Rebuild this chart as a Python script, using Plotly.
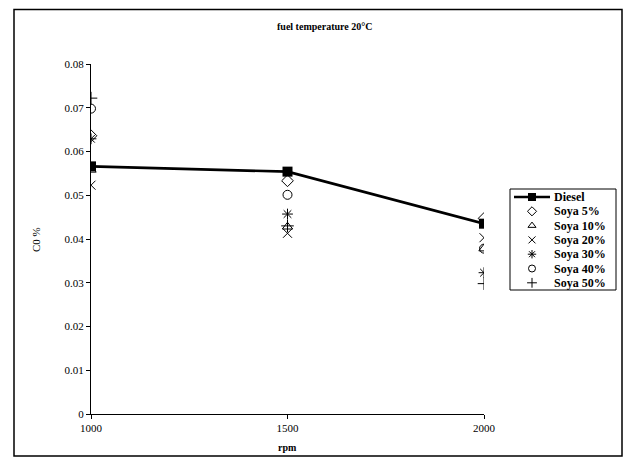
import plotly.graph_objects as go

rpm = [1000, 1500, 2000]
diesel = [0.0566, 0.0554, 0.0435]
soya5 = [0.0636, 0.0533, 0.0447]
soya10 = [0.0558, 0.0428, 0.0378]
soya20 = [0.0523, 0.0413, 0.0403]
soya30 = [0.0629, 0.0457, 0.0323]
soya40 = [0.0698, 0.0501, 0.0378]
soya50 = [0.0722, 0.0430, 0.0298]

y_ticks = [0, 0.01, 0.02, 0.03, 0.04, 0.05, 0.06, 0.07, 0.08]
y_labels = ["0", "0.01", "0.02", "0.03", "0.04", "0.05", "0.06", "0.07", "0.08"]
x_ticks = [1000, 1500, 2000]
x_labels = ["1000", "1500", "2000"]

series_names = ["Diesel", "Soya 5%", "Soya 10%", "Soya 20%", "Soya 30%", "Soya 40%", "Soya 50%"]
series_values = [diesel, soya5, soya10, soya20, soya30, soya40, soya50]
symbols = ["square", "diamond-open", "triangle-up-open", "x-thin-open",
           "asterisk-open", "circle-open", "cross-thin-open"]

FONT = "Liberation Serif, Times New Roman, serif"
W, H = 629, 461

def px(x):
    return x / W

def py(y):
    return 1 - y / H

# plot area in pixels
L, R, T, B = 91, 484, 64, 414
# legend box in pixels
LX0, LX1, LY0, LY1 = 510, 616, 189, 290
row0, row_step = 197, 14.3
mark_x, text_x = 532, 552

fig = go.Figure()
for i, (name, vals, sym) in enumerate(zip(series_names, series_values, symbols)):
    if i == 0:
        fig.add_trace(go.Scatter(x=rpm, y=vals, name=name, mode="lines+markers",
                                 line=dict(color="black", width=2.7),
                                 marker=dict(symbol=sym, size=10, color="black")))
    else:
        fig.add_trace(go.Scatter(x=rpm, y=vals, name=name, mode="markers",
                                 marker=dict(symbol=sym, size=9, color="black",
                                             line=dict(color="black", width=1))))

# manual legend on a hidden overlay axis (pixel units)
annotations = []
for i, (name, sym) in enumerate(zip(series_names, symbols)):
    ry = row0 + i * row_step
    if i == 0:
        fig.add_trace(go.Scatter(x=[LX0 + 4, mark_x, 550], y=[ry, ry, ry], mode="lines",
                                 line=dict(color="black", width=2.5), xaxis="x2", yaxis="y2",
                                 showlegend=False, hoverinfo="skip"))
        fig.add_trace(go.Scatter(x=[mark_x], y=[ry], mode="markers",
                                 marker=dict(symbol=sym, size=8, color="black"),
                                 xaxis="x2", yaxis="y2", showlegend=False, hoverinfo="skip"))
    else:
        fig.add_trace(go.Scatter(x=[mark_x], y=[ry], mode="markers",
                                 marker=dict(symbol=sym, size=7, color="black",
                                             line=dict(color="black", width=1)),
                                 xaxis="x2", yaxis="y2", showlegend=False, hoverinfo="skip"))
    annotations.append(dict(text="<b>%s</b>" % name, x=px(text_x), y=py(ry),
                            xref="paper", yref="paper", xanchor="left", yanchor="middle",
                            showarrow=False, font=dict(size=12, family=FONT, color="black")))

annotations += [
    dict(text="<b>fuel temperature 20°C</b>", x=px(324), y=py(27), xref="paper", yref="paper",
         xanchor="center", yanchor="middle", showarrow=False,
         font=dict(size=10, family=FONT, color="black")),
    dict(text="<b>rpm</b>", x=px(287), y=py(447), xref="paper", yref="paper",
         xanchor="center", yanchor="middle", showarrow=False,
         font=dict(size=10, family=FONT, color="black")),
    dict(text="C0 %", x=px(36), y=py(240), xref="paper", yref="paper", textangle=-90,
         xanchor="center", yanchor="middle", showarrow=False,
         font=dict(size=11, family=FONT, color="black")),
]

fig.update_layout(
    width=W, height=H,
    margin=dict(l=0, r=0, t=0, b=0),
    paper_bgcolor="white", plot_bgcolor="rgba(0,0,0,0)",
    font=dict(family=FONT, color="black", size=11),
    showlegend=False,
    annotations=annotations,
    xaxis=dict(domain=[px(L), px(R)], range=[1000, 2000], tickvals=x_ticks, ticktext=x_labels,
               showgrid=False, zeroline=False, showline=True, linecolor="black",
               linewidth=1, ticks="outside", ticklen=4, tickcolor="black",
               tickfont=dict(size=11), automargin=False),
    yaxis=dict(domain=[py(B), py(T)], range=[0, 0.08], tickvals=y_ticks, ticktext=y_labels,
               showgrid=False, zeroline=False, showline=True, linecolor="black",
               linewidth=1, ticks="outside", ticklen=4, tickcolor="black",
               tickfont=dict(size=11), automargin=False),
    xaxis2=dict(domain=[px(LX0), px(LX1)], range=[LX0, LX1], visible=False,
                anchor="y2", fixedrange=True),
    yaxis2=dict(domain=[py(LY1), py(LY0)], range=[LY1, LY0], visible=False,
                anchor="x2", fixedrange=True),
    shapes=[
        dict(type="rect", xref="paper", yref="paper",
             x0=px(14), x1=px(622), y0=py(456), y1=py(9.5),
             line=dict(color="black", width=1.5), fillcolor="rgba(0,0,0,0)"),
        dict(type="rect", xref="paper", yref="paper",
             x0=px(LX0), x1=px(LX1), y0=py(LY1), y1=py(LY0),
             line=dict(color="black", width=1), fillcolor="rgba(0,0,0,0)"),
    ],
)

fig.write_html("out.html")
